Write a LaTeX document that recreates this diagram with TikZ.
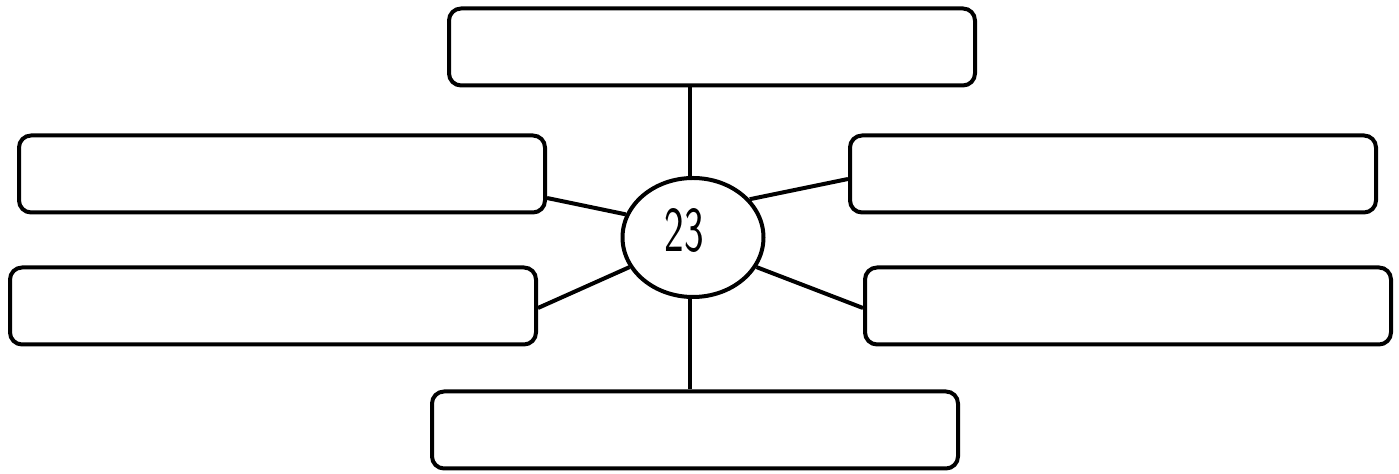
\documentclass[tikz,border=0pt]{standalone}
\usepackage{graphicx}
\usetikzlibrary{shapes.geometric,calc}
\begin{document}
\begin{tikzpicture}[x=0.5pt,y=-0.5pt,
  box/.style={draw=black,line width=2pt,rounded corners=6pt,minimum width=263pt,minimum height=38.5pt,inner sep=0pt},
  conn/.style={draw=black,line width=2pt},
  hub/.style={draw=black,line width=2pt,ellipse,minimum width=70.5pt,minimum height=59.5pt,inner sep=0pt}]
\useasboundingbox (0,0) rectangle (1399,474);
\node[box] (top) at (712,47) {};
\node[box] (lu) at (282,174) {};
\node[box] (ll) at (273,306) {};
\node[box] (ru) at (1113,174) {};
\node[box] (rl) at (1128,306) {};
\node[box] (bot) at (695,430) {};
\node[hub] (ell) at (693,237.5) {};
\node (num) at (684,231) {\scalebox{0.65}[1]{\fontsize{32}{32}\selectfont\sffamily 23}};
\draw[conn] (top.south -| ell.93) -- (ell.93);
\draw[conn] (ell.267) -- (bot.north -| ell.267);
\draw[conn] ($(lu.east)+(0,24)$) -- (ell.161);
\draw[conn] (ell.34) -- ($(ru.west)+(0,5)$);
\draw[conn] ($(ll.east)+(0,2)$) -- (ell.205);
\draw[conn] (ell.335) -- ($(rl.west)+(0,2)$);
\end{tikzpicture}
\end{document}
